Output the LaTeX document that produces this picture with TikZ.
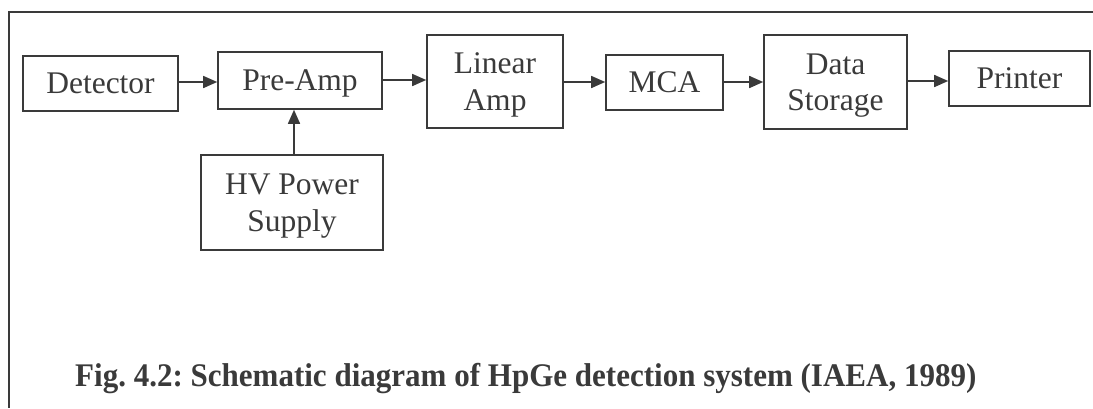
\documentclass[tikz,border=0pt]{standalone}
\usepackage{fontspec}
\setmainfont{Liberation Serif}
\usetikzlibrary{arrows.meta}
\definecolor{ink}{HTML}{3A3A3A}
\frenchspacing
\begin{document}
\begin{tikzpicture}[x=1pt,y=-1pt,
  blk/.style={draw=ink, line width=1.6pt, rectangle, inner sep=0pt, align=center,
    text=ink, font=\fontsize{31.5}{36.5}\selectfont, text depth=0pt},
  arr/.style={draw=ink, line width=1.6pt, -{Triangle[length=14pt,width=12pt]}},
  frame/.style={draw=ink, line width=1.6pt}]
\useasboundingbox (0,0) rectangle (1093,408);
% open frame: top and left rules
\draw[frame] (1093,12) -- (9,12) -- (9,408);

% signal chain
\node[blk, minimum width=155pt, minimum height=55pt] (det) at (100.5,83.5) {Detector};
\node[blk, minimum width=164pt, minimum height=57pt] (pre) at (300,80.5) {Pre-Amp};
\node[blk, minimum width=136pt, minimum height=93pt] (lin) at (495,81.5) {Linear\\Amp};
\node[blk, minimum width=117pt, minimum height=55pt] (mca) at (664.5,82.5) {MCA};
\node[blk, minimum width=143pt, minimum height=94pt] (dst) at (835.5,82) {Data\\Storage};
\node[blk, minimum width=141pt, minimum height=55pt] (prn) at (1019.5,78.5) {Printer};
\node[blk, minimum width=182pt, minimum height=95pt] (hv) at (292,202.5) {HV Power\\Supply};

% connectors
\draw[arr] (det.east |- 0,82) -- (pre.west |- 0,82);
\draw[arr] (pre.east |- 0,80) -- (lin.west |- 0,80);
\draw[arr] (lin.east |- 0,82) -- (mca.west |- 0,82);
\draw[arr] (mca.east |- 0,82) -- (dst.west |- 0,82);
\draw[arr] (dst.east |- 0,81) -- (prn.west |- 0,81);
\draw[arr] (hv.north -| 294,0) -- (pre.south -| 294,0);

% caption
\node[anchor=base west, inner sep=0pt, text=ink,
  font=\bfseries\fontsize{33}{40}\selectfont] (cap) at (75,386)
  {\scalebox{0.94}[1]{Fig. 4.2: Schematic diagram of HpGe detection system (IAEA, 1989)}};
\end{tikzpicture}
\end{document}
